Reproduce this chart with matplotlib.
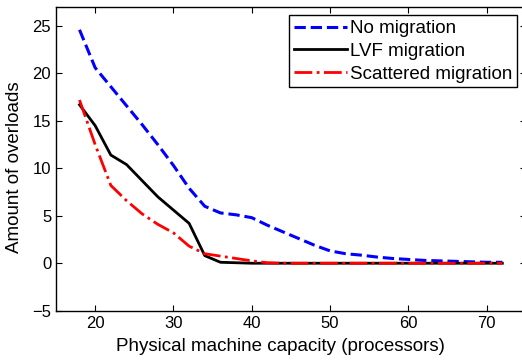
import matplotlib
matplotlib.use("Agg")
import matplotlib.pyplot as plt

plt.rcParams['font.family'] = ['Liberation Sans', 'DejaVu Sans']

capacity = [18, 20, 22, 24, 26, 28, 30, 32, 34, 36, 38, 40, 42, 44, 46,
            48, 50, 52, 54, 56, 58, 60, 62, 64, 66, 68, 70, 72]
no_migration = [24.6, 20.6, 18.6, 16.6, 14.6, 12.5, 10.3, 7.9, 6.0, 5.3,
                5.1, 4.8, 4.0, 3.3, 2.6, 1.9, 1.3, 1.0, 0.85, 0.65, 0.5,
                0.4, 0.3, 0.25, 0.2, 0.15, 0.1, 0.1]
lvf_migration = [16.7, 14.5, 11.4, 10.4, 8.7, 7.0, 5.6, 4.2, 0.8, 0.1,
                 0.05, 0.0, 0.0, 0.0, 0.0, 0.0, 0.0, 0.0, 0.0, 0.0, 0.0,
                 0.0, 0.0, 0.0, 0.0, 0.0, 0.0, 0.0]
scattered_migration = [17.2, 12.5, 8.2, 6.6, 5.2, 4.1, 3.2, 1.8, 1.0, 0.75,
                       0.5, 0.25, 0.05, 0.0, 0.0, 0.0, 0.0, 0.0, 0.0, 0.0,
                       0.0, 0.0, 0.0, 0.0, 0.0, 0.0, 0.0, 0.0]

fig = plt.figure(figsize=(5.22, 3.6), dpi=100)
ax = fig.add_axes([0.1073, 0.137, 0.9, 0.8436])

ax.plot(capacity, no_migration, '--', color='blue', lw=2.2, label='No migration')
ax.plot(capacity, lvf_migration, '-', color='black', lw=2.0, label='LVF migration')
ax.plot(capacity, scattered_migration, '-.', color='red', lw=2.0,
        label='Scattered migration')

ax.set_xlim(15, 75)
ax.set_ylim(-5, 27)
ax.set_xticks([20, 30, 40, 50, 60, 70])
ax.set_yticks([-5, 0, 5, 10, 15, 20, 25])
ax.set_yticklabels(['\u22125', '0', '5', '10', '15', '20', '25'])
ax.tick_params(direction='in', top=True, right=True, labelsize=12, length=4)
for s in ax.spines.values():
    s.set_linewidth(1.0)

ax.set_xlabel('Physical machine capacity (processors)', fontsize=13.5)
ax.set_ylabel('Amount of overloads', fontsize=13.5)
ax.xaxis.set_label_coords(0.477, -0.09)
ax.yaxis.set_label_coords(-0.07, 0.473)

leg = ax.legend(loc='upper right', bbox_to_anchor=(0.99, 0.985), fontsize=13.5,
                fancybox=False, edgecolor='black', framealpha=1,
                handlelength=2.8, handletextpad=0.2, borderpad=0.25,
                labelspacing=0.3, borderaxespad=0.2)
leg.get_frame().set_linewidth(1.0)

fig.savefig('out.png', dpi=100)
